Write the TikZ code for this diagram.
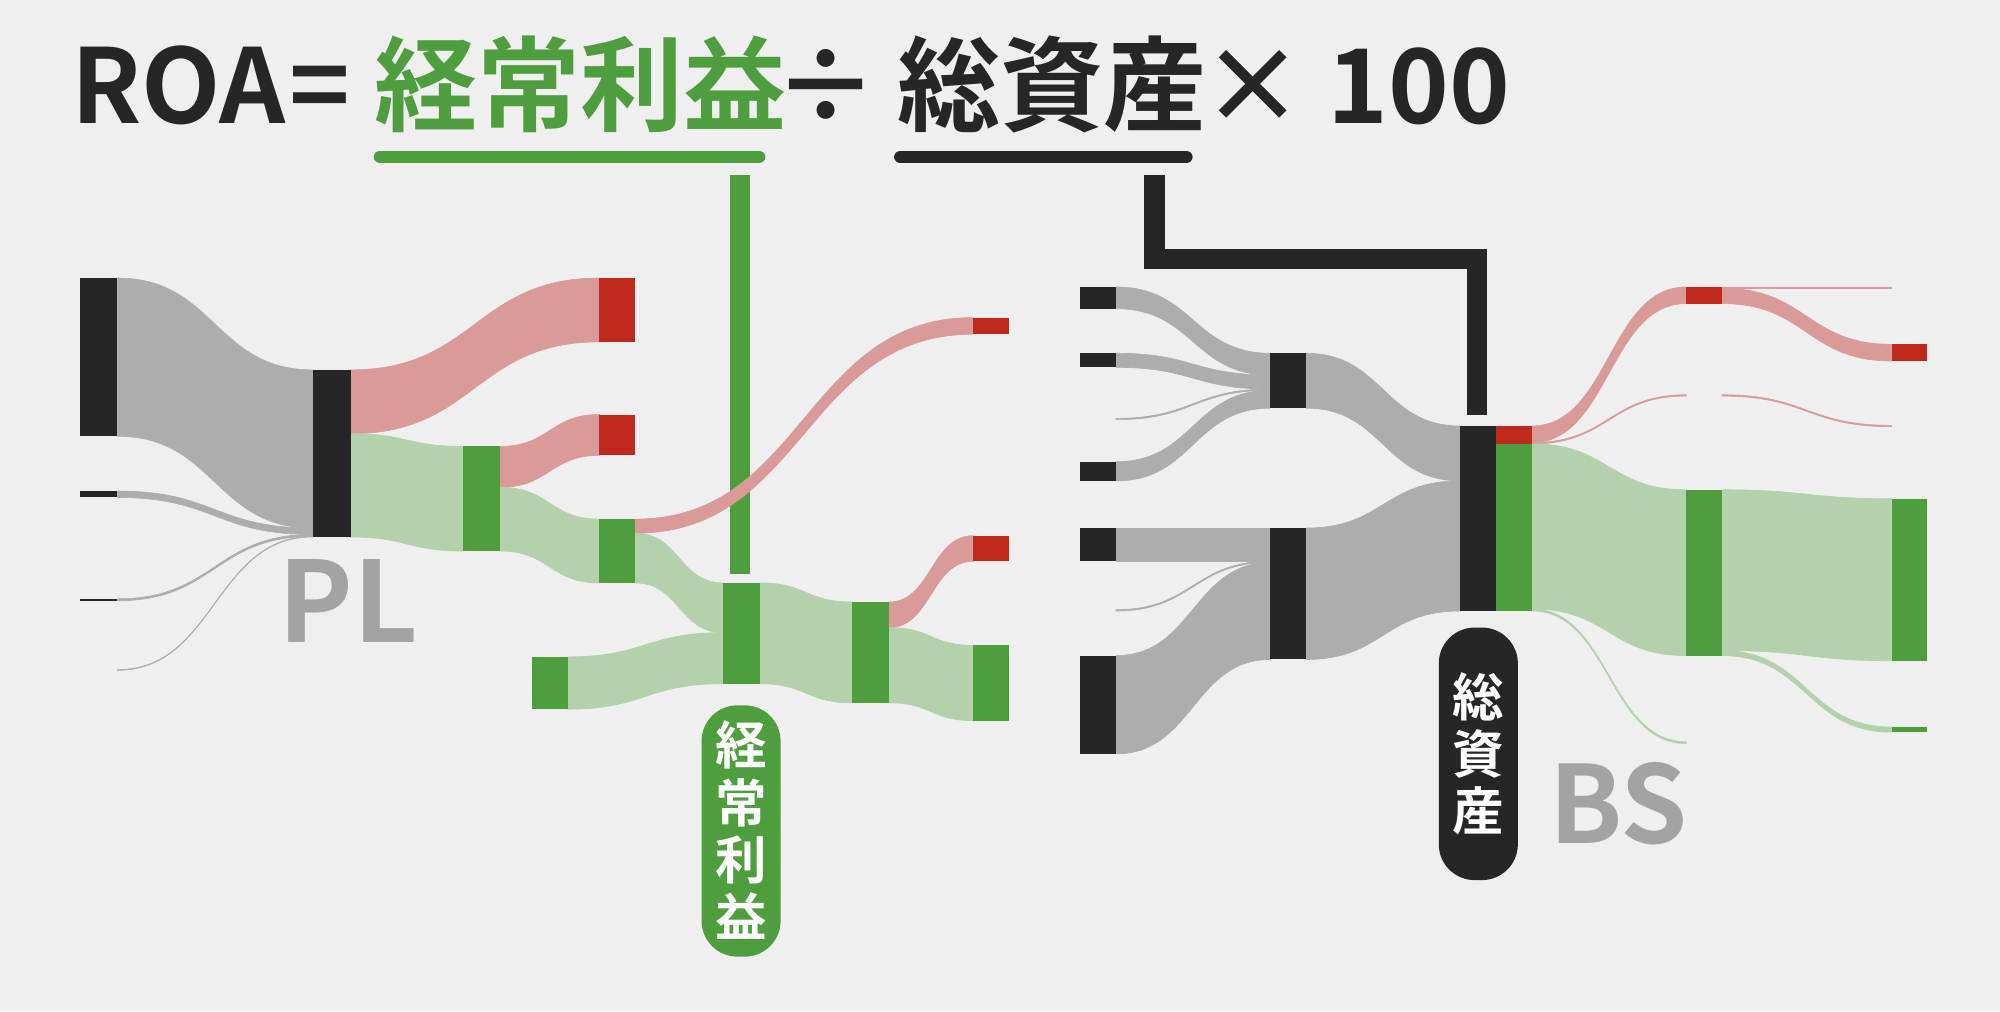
\documentclass[tikz,border=0pt]{standalone}
\usepackage{fontspec}
\newfontfamily\jp{Noto Sans CJK JP}[BoldFont={Noto Sans CJK JP Bold}]
\definecolor{bg}{HTML}{EFEFEF}
\definecolor{blk}{HTML}{262626}
\definecolor{rbar}{HTML}{BF2A1F}
\definecolor{gbar}{HTML}{4E9E3E}
\definecolor{gry}{HTML}{ADADAD}
\definecolor{rfl}{HTML}{D99A98}
\definecolor{gfl}{HTML}{B3D1AB}
\definecolor{lbl}{HTML}{A3A3A3}
\newcommand\flowband[7]{%
 \pgfmathsetmacro\fm{(#2+#5)/2}%
 \fill[#1,draw=#1,line width=0.15pt] (#2,#3) .. controls (\fm,#3) and (\fm,#6) .. (#5,#6) -- (#5,#7) .. controls (\fm,#7) and (\fm,#4) .. (#2,#4) -- cycle;}
\newcommand\barr[5]{\fill[#1] (#2,#3) rectangle (#4,#5);}
\begin{document}
\begin{tikzpicture}[x=0.1mm,y=-0.1mm,
 ttl/.style={font=\jp\bfseries\fontsize{23}{23}\selectfont,inner sep=0},
 vlab/.style={font=\jp\bfseries\fontsize{11.5}{12.8}\selectfont,text=white,align=center,inner sep=0}]
\fill[bg] (0,0) rectangle (1568,793);
\useasboundingbox (0,0) rectangle (1568,793);
% title
\node[ttl,anchor=base west,text=blk] (roa) at (55,97) {ROA};
\node[ttl,anchor=base,text=blk] (eq) at (251,97) {=};
\node[ttl,anchor=base west,text=gbar] (kei) at (293,97) {経常利益};
\node[ttl,anchor=base,text=blk] (div) at (648,97) {÷};
\node[ttl,anchor=base west,text=blk] (sou) at (703,97) {総資産};
\node[ttl,anchor=base,text=blk] (mul) at (982,97) {×};
\node[ttl,anchor=base west,text=blk] (hund) at (1040,97) {100};
\draw[gbar,line width=10*0.2845pt,line cap=round] (298,123) -- (595,123);
\draw[blk,line width=10*0.2845pt,line cap=round] (706,123) -- (930,123);
\draw[gbar,line width=16*0.2845pt] (580,137) -- (580,450);
\draw[blk,line width=16*0.2845pt] (905,137) -- (905,203) -- (1158,203) -- (1158,325);
% PL flows
\flowband{gry}{92}{218}{342}{245}{290}{414}
\flowband{gry}{92}{385}{390}{245}{414}{419}
\flowband{gry}{92}{469.5}{471}{245}{419}{420.5}
\flowband{gry}{92}{525}{525.5}{245}{420.5}{421}
\flowband{rfl}{275}{290}{340}{470}{218}{268}
\flowband{gfl}{275}{340}{421}{363}{350}{432}
\flowband{rfl}{392}{350}{382}{470}{325}{357}
\flowband{gfl}{392}{382}{432}{470}{407}{457}
\flowband{rfl}{498}{407}{418}{763}{249}{262}
\flowband{gfl}{498}{418}{457}{567}{457}{496}
\flowband{gfl}{445}{515}{556}{567}{496}{536}
\flowband{gfl}{596}{457}{536}{668}{472}{551}
\flowband{rfl}{697}{472}{492}{763}{420}{440}
\flowband{gfl}{697}{492}{551}{763}{506}{565}
% PL bars
\barr{blk}{63}{218}{92}{342}
\barr{blk}{63}{385}{92}{390}
\barr{blk}{63}{469.5}{92}{471}
\barr{blk}{245}{290}{275}{421}
\barr{gbar}{363}{350}{392}{432}
\barr{rbar}{470}{218}{498}{268}
\barr{rbar}{470}{325}{498}{357}
\barr{gbar}{470}{407}{498}{457}
\barr{rbar}{763}{249}{791}{262}
\barr{gbar}{417}{515}{445}{556}
\barr{gbar}{567}{457}{596}{536}
\barr{gbar}{668}{472}{697}{551}
\barr{rbar}{763}{420}{791}{440}
\barr{gbar}{763}{506}{791}{565}
\node[font=\jp\bfseries\fontsize{25}{25}\selectfont,text=lbl,anchor=base west,inner sep=0] (pl) at (218,504) {PL};
\fill[gbar,rounded corners=8] (550,553) rectangle (612,750);
\node[vlab] (keiv) at (581,651) {経\\常\\利\\益};
% BS flows
\flowband{gry}{875}{225}{242}{996}{277}{294}
\flowband{gry}{875}{277}{288}{996}{294}{305}
\flowband{gry}{875}{328}{329}{996}{305}{306}
\flowband{gry}{875}{362}{377}{996}{306}{320}
\flowband{gry}{875}{414}{440}{996}{414}{440}
\flowband{gry}{875}{478}{479}{996}{440}{441}
\flowband{gry}{875}{514}{591}{996}{441}{517}
\flowband{gry}{1024}{277}{320}{1145}{334}{377}
\flowband{gry}{1024}{414}{517}{1145}{377}{479}
\flowband{rfl}{1201}{334}{347}{1322}{225}{238}
\flowband{rfl}{1201}{347}{348}{1322}{309.5}{310.5}
\flowband{gfl}{1201}{348}{477.5}{1322}{384}{514}
\flowband{gfl}{1201}{477.5}{479}{1322}{581.5}{583}
\flowband{rfl}{1350}{225}{226}{1483}{225}{226}
\flowband{rfl}{1350}{226}{238}{1483}{270}{283}
\flowband{rfl}{1350}{309.5}{310.5}{1483}{333.5}{334.5}
\flowband{gfl}{1350}{384}{510}{1483}{391}{518}
\flowband{gfl}{1350}{510}{514}{1483}{570}{574}
% BS bars
\barr{blk}{847}{225}{875}{242}
\barr{blk}{847}{277}{875}{288}
\barr{blk}{847}{362}{875}{377}
\barr{blk}{847}{414}{875}{440}
\barr{blk}{847}{514}{875}{591}
\barr{blk}{996}{277}{1024}{320}
\barr{blk}{996}{414}{1024}{517}
\barr{blk}{1145}{334}{1173}{479}
\barr{rbar}{1173}{334}{1201}{348}
\barr{gbar}{1173}{348}{1201}{479}
\barr{rbar}{1322}{225}{1350}{238}
\barr{gbar}{1322}{384}{1350}{514}
\barr{rbar}{1483}{270}{1511}{283}
\barr{gbar}{1483}{391}{1511}{518}
\barr{gbar}{1483}{570}{1511}{574}
\node[font=\jp\bfseries\fontsize{24}{24}\selectfont,text=lbl,anchor=base west,inner sep=0] (bs) at (1214,661) {BS};
\fill[blk,rounded corners=8] (1128,492) rectangle (1190,690);
\node[vlab] (souv) at (1159,591) {総\\資\\産};
\end{tikzpicture}
\end{document}
